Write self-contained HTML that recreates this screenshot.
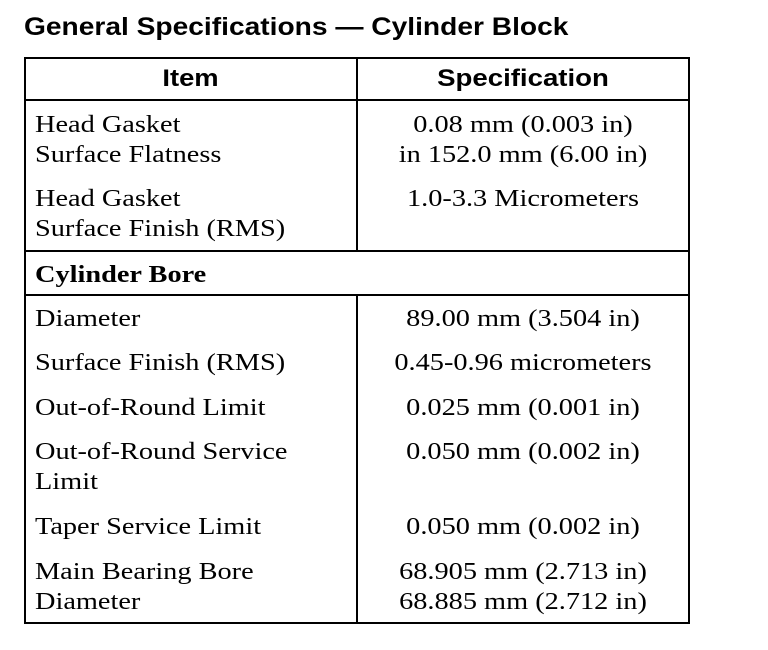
<!DOCTYPE html>
<html><head><style>
body{margin:0;background:#fff;width:768px;height:650px;position:relative;overflow:hidden}
.t{position:absolute;font-family:"Liberation Serif",serif;font-size:24px;line-height:28px;white-space:nowrap;color:#000;transform:scaleX(1.18);transform-origin:left center}
.s{font-family:"Liberation Sans",sans-serif;font-weight:bold;transform:scaleX(1.14)}
.c{width:332px;left:357px;text-align:center;transform-origin:center center}
.l{position:absolute;background:#000}
</style></head><body>
<div class="t s" style="left:24px;top:13px;font-size:25px;transform:scaleX(1.126)">General Specifications — Cylinder Block</div>
<div class="l" style="left:24px;top:57px;width:666px;height:2px"></div>
<div class="l" style="left:24px;top:99px;width:666px;height:2px"></div>
<div class="l" style="left:24px;top:250px;width:666px;height:2px"></div>
<div class="l" style="left:24px;top:294px;width:666px;height:2px"></div>
<div class="l" style="left:24px;top:622px;width:666px;height:2px"></div>
<div class="l" style="left:24px;top:57px;width:2px;height:567px"></div>
<div class="l" style="left:688px;top:57px;width:2px;height:567px"></div>
<div class="l" style="left:356px;top:57px;width:2px;height:195px"></div>
<div class="l" style="left:356px;top:294px;width:2px;height:330px"></div>
<div class="t s" style="left:24px;width:333px;text-align:center;top:65px;transform-origin:center center">Item</div>
<div class="t s c" style="top:65px;transform:scaleX(1.15)">Specification</div>
<div class="t" style="left:35px;top:111px">Head Gasket</div>
<div class="t" style="left:35px;top:141px">Surface Flatness</div>
<div class="t" style="left:35px;top:185px">Head Gasket</div>
<div class="t" style="left:35px;top:215px">Surface Finish (RMS)</div>
<div class="t c" style="top:111px">0.08 mm (0.003 in)</div>
<div class="t c" style="top:141px">in 152.0 mm (6.00 in)</div>
<div class="t c" style="top:185px">1.0-3.3 Micrometers</div>
<div class="t" style="left:35px;top:261px;font-weight:bold">Cylinder Bore</div>
<div class="t" style="left:35px;top:305px">Diameter</div>
<div class="t c" style="top:305px">89.00 mm (3.504 in)</div>
<div class="t" style="left:35px;top:349px">Surface Finish (RMS)</div>
<div class="t c" style="top:349px">0.45-0.96 micrometers</div>
<div class="t" style="left:35px;top:394px">Out-of-Round Limit</div>
<div class="t c" style="top:394px">0.025 mm (0.001 in)</div>
<div class="t" style="left:35px;top:438px">Out-of-Round Service</div>
<div class="t" style="left:35px;top:468px">Limit</div>
<div class="t c" style="top:438px">0.050 mm (0.002 in)</div>
<div class="t" style="left:35px;top:513px">Taper Service Limit</div>
<div class="t c" style="top:513px">0.050 mm (0.002 in)</div>
<div class="t" style="left:35px;top:558px">Main Bearing Bore</div>
<div class="t" style="left:35px;top:588px">Diameter</div>
<div class="t c" style="top:558px">68.905 mm (2.713 in)</div>
<div class="t c" style="top:588px">68.885 mm (2.712 in)</div>
</body></html>
